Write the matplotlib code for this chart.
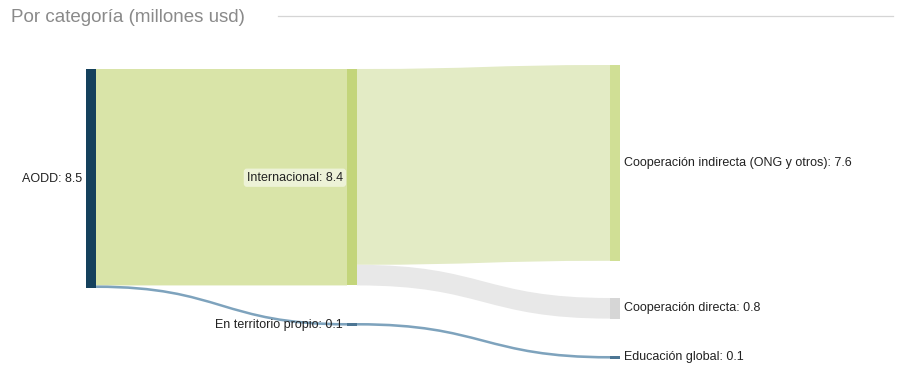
import matplotlib.pyplot as plt
from matplotlib.path import Path
from matplotlib.patches import PathPatch, Rectangle

plt.rcParams['font.family'] = ['Liberation Sans', 'DejaVu Sans']

# nodes and values (millones usd)
nodes = ['AODD', 'Internacional', 'En territorio propio',
         'Cooperación indirecta (ONG y otros)', 'Cooperación directa', 'Educación global']
values = [8.5, 8.4, 0.1, 7.6, 0.8, 0.1]
links_src = [0, 0, 1, 1, 2]
links_dst = [1, 2, 3, 4, 5]
links_val = [8.4, 0.1, 7.6, 0.8, 0.1]

# layout (pixels)
node_col = [86, 347, 347, 610, 610, 610]
node_top = [69, 69, 323, 65, 298, 356]
node_w = 10
scale = 219 / 8.5
node_colors = ['#15415c', '#c3d57a', '#4d7694', '#d0df95', '#d6d6d6', '#4d7694']
link_colors = ['#d9e4a8', '#7ea3bd', '#e3ebc5', '#e8e8e8', '#7ea3bd']

fig = plt.figure(figsize=(8.99, 3.74), dpi=100)
ax = fig.add_axes([0, 0, 1, 1])
ax.set_xlim(0, 899)
ax.set_ylim(374, 0)
ax.axis('off')

out_off = [0.0] * len(nodes)
in_off = [0.0] * len(nodes)
for s, d, v, c in zip(links_src, links_dst, links_val, link_colors):
    h = v * scale
    x0 = node_col[s] + node_w
    x1 = node_col[d]
    ys = node_top[s] + out_off[s]
    yt = node_top[d] + in_off[d]
    out_off[s] += h
    in_off[d] += h
    xm = (x0 + x1) / 2
    verts = [(x0, ys), (xm, ys), (xm, yt), (x1, yt), (x1, yt + h),
             (xm, yt + h), (xm, ys + h), (x0, ys + h), (x0, ys)]
    codes = [Path.MOVETO, Path.CURVE4, Path.CURVE4, Path.CURVE4, Path.LINETO,
             Path.CURVE4, Path.CURVE4, Path.CURVE4, Path.CLOSEPOLY]
    ax.add_patch(PathPatch(Path(verts, codes), facecolor=c, edgecolor='none'))

for i, (name, v) in enumerate(zip(nodes, values)):
    h = v * scale
    ax.add_patch(Rectangle((node_col[i], node_top[i]), node_w, h,
                           facecolor=node_colors[i], edgecolor='none'))
    yc = node_top[i] + h / 2
    label = f'{name}: {v}'
    if i == 0:
        ax.text(node_col[i] - 4, yc, label, ha='right', va='center', fontsize=9, color='#222222')
    elif i in (1, 2):
        kw = {}
        if i == 1:
            kw['bbox'] = dict(boxstyle='round,pad=0.25', fc='white', ec='none', alpha=0.55)
        ax.text(node_col[i] - 4, yc + 0.5, label, ha='right', va='center', fontsize=9,
                color='#222222', **kw)
    else:
        ax.text(node_col[i] + node_w + 4, yc, label, ha='left', va='center', fontsize=9,
                color='#222222')

ax.text(11, 17, 'Por categoría (millones usd)', ha='left', va='center', fontsize=13.5, color='#8a8a8a')
ax.plot([278, 893], [16, 16], color='#d5d5d5', lw=0.9)

plt.savefig('out.png', dpi=100)
